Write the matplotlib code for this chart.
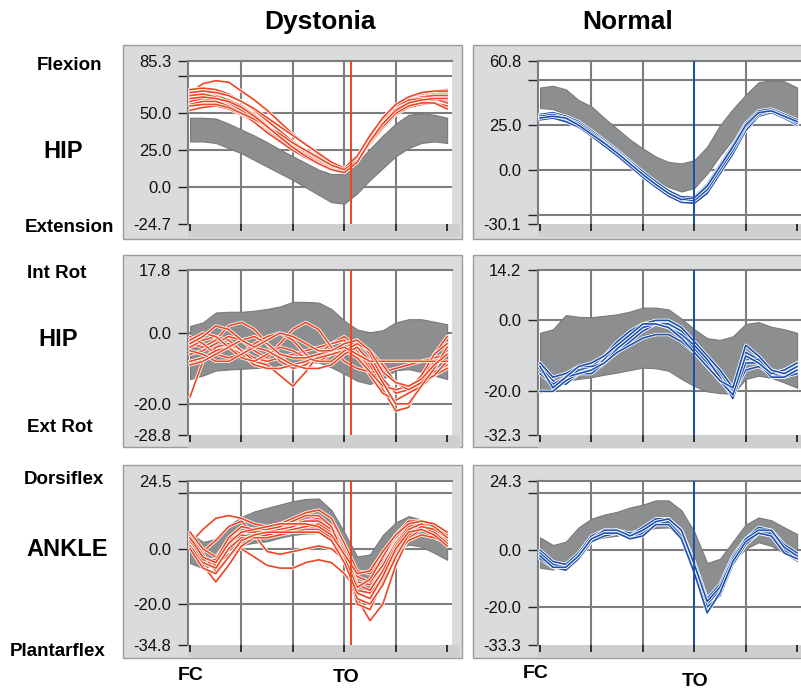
import matplotlib
matplotlib.use("Agg")
import matplotlib.pyplot as plt
import matplotlib.patheffects as pe
from matplotlib.patches import Rectangle

plt.rcParams["font.family"] = ["Liberation Sans", "DejaVu Sans"]

# % of gait cycle, sampled every 5 %
PCT = list(range(0, 101, 5))

# ---- hip flexion / extension ----
HIPFLEX_D_LO = [31, 31, 30, 26.5, 23, 18.5, 14, 9.5, 5, 0, -5, -10, -11, -4, 5, 13, 21, 26.5, 30, 31, 30]
HIPFLEX_D_HI = [47, 47, 46.5, 43, 39, 35, 30.5, 25.5, 21, 16.5, 12, 9, 9, 17, 26, 35, 43, 49, 50, 49, 47]
HIPFLEX_D_TRIALS = [
    [64, 70, 72, 71, 65, 59, 52, 44, 36, 29, 22, 17, 13, 21, 34, 46, 55, 60, 62, 64, 64],
    [66, 67, 66, 63, 58, 52, 45, 38, 31, 25, 19, 14, 11, 19, 33, 45, 55, 61, 63, 65, 66],
    [60, 62, 62, 59, 55, 49, 42, 35, 28, 22, 17, 13, 11, 18, 31, 43, 52, 57, 59, 60, 61],
    [58, 60, 59, 56, 51, 45, 38, 32, 26, 21, 16, 12, 10, 17, 30, 42, 51, 56, 58, 59, 58],
    [62, 63, 61, 57, 52, 46, 40, 34, 28, 23, 18, 14, 12, 20, 33, 45, 54, 59, 61, 62, 62],
    [52, 54, 55, 53, 49, 44, 38, 32, 27, 22, 17, 13, 11, 18, 29, 40, 49, 54, 56, 57, 55],
    [56, 58, 58, 55, 50, 44, 37, 31, 25, 20, 16, 12, 12, 20, 34, 46, 55, 59, 60, 60, 57],
    [64, 65, 64, 62, 58, 53, 47, 41, 35, 29, 23, 17, 13, 21, 35, 47, 56, 61, 64, 65, 65],
    [55, 56, 56, 54, 50, 46, 41, 36, 30, 25, 20, 15, 12, 18, 30, 41, 50, 55, 57, 57, 53],
    [60, 61, 60, 58, 54, 48, 41, 34, 27, 21, 16, 12, 10, 17, 31, 43, 52, 57, 59, 60, 60],
]
HIPFLEX_N_LO = [34.6, 34, 31, 26, 22, 16, 10.5, 5, -1, -6, -9.5, -12, -10, -2, 8, 17, 25, 31.5, 33.5, 31, 29]
HIPFLEX_N_HI = [46, 47, 45, 39, 35.5, 29, 23, 17, 12, 7.5, 4.5, 3.7, 5.5, 13, 25, 34, 42, 49, 50, 49.5, 46]
HIPFLEX_N_TRIALS = [
    [30, 30.5, 29, 26, 21, 15.5, 10, 4, -2, -7.5, -12.5, -16, -16, -10, 1, 12, 25, 32, 33, 30, 27],
    [29, 30, 28, 25, 20, 14.5, 9, 3, -3, -8.5, -13.5, -17, -17.5, -12, -1, 10, 23, 31, 32.5, 29, 26],
    [31, 32, 30, 27, 22, 16.5, 11, 5, -1, -6.5, -11.5, -15, -15, -8, 3, 14, 26, 33, 34, 31, 28],
    [28, 29, 27, 24, 19, 13.5, 8, 2, -4, -9.5, -14.5, -18, -18.5, -13, -2, 9, 22, 30, 32, 29, 25],
    [30, 31, 29, 26, 21, 15.5, 10, 4, -2.5, -8, -13, -16.5, -17, -11, 0, 11, 24, 31, 33, 30, 26],
    [29, 30, 29, 25, 20, 15, 9.5, 3.5, -2.5, -8, -13, -16.5, -15.5, -9, 2, 13, 25, 32, 33, 30, 27],
]

# ---- hip internal / external rotation ----
HIPROT_D_LO = [-13, -12, -10.6, -10.3, -10.1, -9.9, -9.7, -9, -8.3, -8.3, -8.3, -9.7, -11.5, -13.5, -14.4, -13, -10.5, -10.2, -11, -12, -13]
HIPROT_D_HI = [2, 3, 5.8, 6, 6, 6.3, 6.8, 7.5, 8.8, 8.8, 8.6, 6.8, 3.5, 1, 0.2, 0.8, 3, 3.9, 3.9, 3.2, 2.5]
HIPROT_D_TRIALS = [
    [-18, -8, -4, -3, -5, -7, -8, -7, -6, -5, -4, -3, -2, -5, -10, -14, -16, -15, -13, -11, -9],
    [-3, -4, -2, 2, 3, 1, -3, -8, -10, -9, -6, -3, -1, -4, -9, -16, -22, -21, -14, -6, -1],
    [-4, -2, -1, -2, -5, -8, -9, -12, -15, -11, -6, -3, -2, -6, -12, -17, -19, -17, -15, -12, -10],
    [-6, -5, -3, -1, -2, -5, -7, -3, 1, 3, 1, -4, -8, -10, -11, -11, -10, -9, -8, -7, -6],
    [-1, -3, -6, -7, -6, -3, -1, 0, -2, -6, -8, -6, -3, -2, -6, -13, -17, -16, -12, -6, -3],
    [-8, -7, -5, -4, -6, -9, -10, -10, -9, -8, -7, -6, -5, -7, -11, -15, -16, -15, -14, -12, -8],
    [-2, 0, -1, -4, -7, -8, -6, -4, -5, -7, -8, -8, -5, -3, -5, -9, -14, -16, -14, -10, -5],
    [-5, -6, -8, -8, -6, -4, -5, -7, -9, -10, -10, -9, -6, -4, -8, -14, -20, -20, -15, -10, -4],
    [-9, -8, -6, -4, -2, -1, -3, -6, -7, -7, -6, -5, -4, -6, -8, -8, -8, -8, -8, -8, -8],
    [-3, -1, 2, 1, -2, -4, -2, 0, -1, -3, -5, -5, -3, -2, -5, -11, -14, -15, -13, -9, -6],
]
HIPROT_N_LO = [-20.3, -19, -17, -16.5, -16, -15.3, -14.7, -14, -13.3, -13.5, -14.2, -16.5, -18.5, -20, -20.5, -20.7, -16.5, -15.6, -16.2, -17.5, -19]
HIPROT_N_HI = [-3.5, -2.5, 1.5, 1, 0.9, 1.3, 1.7, 2.5, 3.6, 3.6, 3.1, 0.5, -2.5, -5, -5.5, -4.5, -1, -0.5, -1.8, -2.5, -3.5]
HIPROT_N_TRIALS = [
    [-13, -17, -18, -15, -14, -11, -7, -4, -2, -1, -1, -3, -7, -11, -15, -20, -9, -11, -14, -15, -14],
    [-15, -18, -17, -14, -13, -10, -6, -3, -1, 0, 0, -2, -6, -10, -14, -19, -11, -11, -15, -14, -12],
    [-12, -16, -15, -13, -13, -12, -9, -6, -3, -1, -2, -4, -8, -12, -16, -21, -14, -13, -15, -16, -15],
    [-20, -20, -17, -15, -15, -12, -8, -5, -2, -1, -2, -4, -7, -11, -16, -22, -12, -12, -16, -16, -14],
    [-14, -18, -16, -15, -14, -12, -9, -7, -5, -4, -4, -6, -9, -13, -17, -21, -10, -12, -15, -14, -12],
    [-13, -19, -16, -13, -12, -10, -7, -4, -1, -1, -2, -5, -9, -13, -17, -19, -7, -10, -14, -15, -13],
]

# ---- ankle dorsi / plantar flexion ----
ANKLE_D_LO = [-5.2, -7, -5.5, -0.4, 1.3, 2.2, 2.7, 4, 5, 5.5, 5.7, 3, -4.5, -15, -15.5, -8, -0.5, 1.5, 0.8, -1.5, -4]
ANKLE_D_HI = [5.7, 2.5, 3.5, 8.5, 11.5, 13.5, 14.8, 16, 17.2, 18, 18.2, 14, 6, -2.8, -2, 5, 9.5, 11.8, 10.5, 7.5, 4.5]
ANKLE_D_TRIALS = [
    [3, -3, -5, 2, 5, 4, 5, 6, 8, 9, 9, 6, -2, -18, -26, -20, -6, 4, 7, 6, 3],
    [1, -4, -6, -2, 0, -3, -6, -7, -7, -5, -4, -5, -9, -15, -16, -10, -2, 3, 5, 4, 2],
    [4, -1, 3, 8, 10, 5, -1, -2, -1, 0, 1, 0, -4, -12, -13, -6, 2, 7, 8, 7, 4],
    [2, 7, 11, 12, 11, 9, 8, 9, 11, 13, 14, 11, 2, -8, -9, -3, 4, 9, 10, 8, 5],
    [5, -2, -8, -3, 3, 5, 6, 7, 8, 10, 11, 8, 0, -10, -12, -6, 2, 8, 9, 7, 3],
    [4, -6, -12, -6, 1, 4, 5, 6, 7, 8, 9, 6, -3, -20, -22, -12, -1, 6, 8, 6, 2],
    [6, 0, -3, 3, 6, 6, 7, 8, 9, 10, 10, 7, -1, -13, -15, -8, 1, 7, 9, 8, 5],
    [1, -5, -7, 0, 4, 4, 4, 5, 6, 7, 7, 4, -4, -18, -20, -13, -3, 5, 8, 7, 4],
    [3, -4, -4, 4, 8, 7, 7, 8, 10, 12, 12, 8, -3, -14, -11, -3, 5, 10, 10, 8, 4],
    [0, -7, -9, -3, 3, 5, 6, 6, 6, 6, 6, 3, -5, -16, -18, -10, 0, 6, 7, 5, 1],
    [4, -3, -5, 2, 6, 7, 8, 9, 9, 9, 8, 5, -2, -9, -8, -1, 5, 9, 10, 9, 6],
]
ANKLE_N_LO = [-6.2, -6.8, -5.5, 0, 3.4, 4.5, 5.1, 6.2, 7, 7.8, 8, 5.1, -2.5, -15.5, -11.5, -4, 0.5, 2.8, 1.5, -1, -3.8]
ANKLE_N_HI = [4.5, 1.8, 3, 8, 11.1, 12.5, 13.5, 15, 16, 17.5, 17.5, 14, 6.5, -4.5, -3, 3, 9, 11.5, 10.5, 8, 5.7]
ANKLE_N_TRIALS = [
    [-1, -5, -6, -2, 4, 6, 7, 6, 7, 10, 10, 6, -5, -19, -14, -4, 3, 7, 6, 1, -2],
    [-2, -6, -7, -3, 3, 6, 6, 5, 6, 9, 9, 5, -7, -21, -15, -5, 2, 6, 5, 0, -3],
    [0, -4, -5, -1, 5, 7, 7, 5, 8, 11, 11, 7, -4, -17, -12, -2, 4, 8, 7, 2, -1],
    [-3, -6, -7, -3, 3, 5, 6, 4, 6, 9, 10, 5, -6, -20, -16, -5, 2, 6, 6, 0, -3],
    [-1, -5, -6, -2, 4, 7, 7, 5, 7, 10, 11, 7, -5, -18, -13, -3, 4, 7, 7, 1, -2],
    [-2, -6, -6, -2, 4, 6, 6, 4, 5, 9, 9, 4, -8, -22, -15, -4, 3, 6, 5, -1, -3],
]

TOE_OFF_D = 62.5
TOE_OFF_N = 60

# y-axis limits / ticks
YLIM = {
    "flex_d": (-24.7, 85.3), "flex_n": (-30.1, 60.8),
    "rot_d": (-28.8, 17.8), "rot_n": (-32.3, 14.2),
    "ank_d": (-34.8, 24.5), "ank_n": (-33.3, 24.3),
}
YTICKS = {
    "flex_d": [85.3, 75, 50, 25, 0, -24.7], "flex_n": [60.8, 50, 25, 0, -25, -30.1],
    "rot_d": [17.8, 0, -20, -28.8], "rot_n": [14.2, 0, -20, -32.3],
    "ank_d": [24.5, 20, 0, -20, -34.8], "ank_n": [24.3, 20, 0, -20, -33.3],
}
UNLABELED = {"flex_d": [75], "flex_n": [50, -25], "rot_d": [], "rot_n": [],
             "ank_d": [20], "ank_n": [20]}

W, H = 801, 688
RED = "#ee4524"
BLUE = "#1d4fae"
BAND = "#8d8e90"
FRAME = "#dadbdd"
STRIP = "#cdcfd1"
GRID = "#7d7d7d"

fig = plt.figure(figsize=(W / 100, H / 100), dpi=100)


def fig_rect(x0, y0, x1, y1):
    return [x0 / W, 1 - y1 / H, (x1 - x0) / W, (y1 - y0) / H]


def add_box(x0, y0, x1, y1, color, z, edge="none"):
    r = Rectangle((x0 / W, 1 - y1 / H), (x1 - x0) / W, (y1 - y0) / H,
                  transform=fig.transFigure, facecolor=color, edgecolor=edge,
                  lw=1.0, zorder=z)
    fig.patches.append(r)


rows = [(61, 224), (270, 435), (481, 645)]
frames = [(45, 239), (255, 447), (465, 658)]
cols = [(188, 452, 123, 462), (538, 802, 473, 806)]

panels = [
    [("flex_d", HIPFLEX_D_LO, HIPFLEX_D_HI, HIPFLEX_D_TRIALS, RED, TOE_OFF_D),
     ("flex_n", HIPFLEX_N_LO, HIPFLEX_N_HI, HIPFLEX_N_TRIALS, BLUE, TOE_OFF_N)],
    [("rot_d", HIPROT_D_LO, HIPROT_D_HI, HIPROT_D_TRIALS, RED, TOE_OFF_D),
     ("rot_n", HIPROT_N_LO, HIPROT_N_HI, HIPROT_N_TRIALS, BLUE, TOE_OFF_N)],
    [("ank_d", ANKLE_D_LO, ANKLE_D_HI, ANKLE_D_TRIALS, RED, TOE_OFF_D),
     ("ank_n", ANKLE_N_LO, ANKLE_N_HI, ANKLE_N_TRIALS, BLUE, TOE_OFF_N)],
]

for r, (ya, yb) in enumerate(rows):
    fy0, fy1 = frames[r]
    for c, (ax0, ax1, fx0, fx1) in enumerate(cols):
        key, lo, hi, trials, col, to = panels[r][c]
        add_box(fx0, fy0, fx1, fy1, FRAME, -10, edge="#9c9c9c")
        add_box(ax0, yb, fx1 - 2, yb + 13, STRIP, -9)

        ax = fig.add_axes(fig_rect(ax0, ya, ax1, yb))
        ax.set_facecolor("white")
        ax.set_xlim(-0.8, 101.9)
        ax.set_ylim(*YLIM[key])
        ax.set_axisbelow(True)

        ticks = YTICKS[key]
        ax.set_yticks(ticks)
        ax.set_yticklabels(["" if t in UNLABELED[key] else f"{t:.1f}" for t in ticks])
        ax.set_xticks([0, 20, 40, 60, 80, 100])
        ax.set_xticklabels([])
        ax.tick_params(axis="y", length=7, width=1.0, pad=5, labelsize=12,
                       color="#222222", labelcolor="#111111")
        ax.tick_params(axis="x", length=5, width=1.3, color="#222222")

        for v in [20, 40, 60, 80]:
            ax.axvline(v, color=GRID, lw=1.5, zorder=0.5)
        for t in ticks[1:-1]:
            ax.axhline(t, color=GRID, lw=1.5, zorder=0.5)

        for s in ["right", "bottom"]:
            ax.spines[s].set_visible(False)
        for s in ["top", "left"]:
            ax.spines[s].set_color(GRID)
            ax.spines[s].set_linewidth(1.5)

        ax.fill_between(PCT, lo, hi, facecolor=BAND, edgecolor="#7a7a7a",
                        lw=0.8, zorder=2)
        for tr in trials:
            ax.plot(PCT, tr, color=col, lw=1.2, zorder=3,
                    path_effects=[pe.Stroke(linewidth=2.4, foreground="white"),
                                  pe.Normal()])
        ax.axvline(to, color=col, lw=1.4, zorder=4)

# column titles
fig.text(320 / W, 1 - 22 / H, "Dystonia", ha="center", va="center",
         fontsize=19, fontweight="bold")
fig.text(628 / W, 1 - 22 / H, "Normal", ha="center", va="center",
         fontsize=19, fontweight="bold")

# row labels
small = [("Flexion", 69, 66), ("Extension", 69, 227),
         ("Int Rot", 57, 274), ("Ext Rot", 60, 427),
         ("Dorsiflex", 64, 480), ("Plantarflex", 58, 652)]
for txt, x, y in small:
    fig.text(x / W, 1 - y / H, txt, ha="center", va="center",
             fontsize=13.5, fontweight="bold")
big = [("HIP", 63, 151), ("HIP", 58, 340), ("ANKLE", 67, 550)]
for txt, x, y in big:
    fig.text(x / W, 1 - y / H, txt, ha="center", va="center",
             fontsize=17, fontweight="bold")

# gait events
events = [("FC", 191, 675), ("TO", 346, 677), ("FC", 536, 674), ("TO", 695, 681)]
for txt, x, y in events:
    fig.text(x / W, 1 - y / H, txt, ha="center", va="center",
             fontsize=14, fontweight="bold")

fig.savefig("out.png", dpi=100, facecolor="white")
